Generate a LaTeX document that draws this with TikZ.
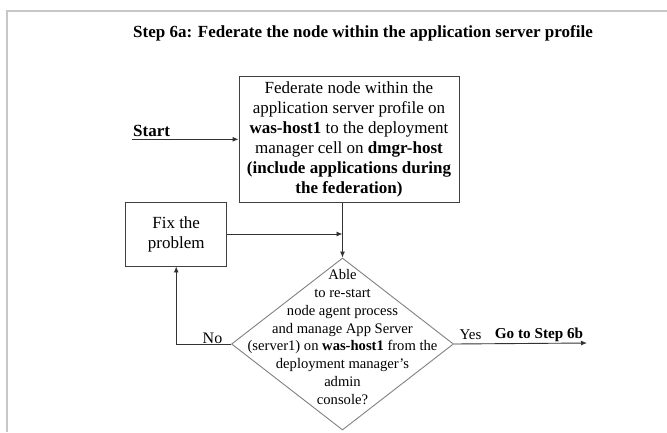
\documentclass[tikz,border=0pt]{standalone}
\usepackage{fontspec}
\setmainfont{Liberation Serif}
\usetikzlibrary{shapes.geometric,arrows.meta}
\begin{document}
\begin{tikzpicture}[x=1pt,y=-1pt,
  framestyle/.style={draw=black!22, line width=2pt},
  box/.style={draw=black!75, line width=0.9pt, rectangle, inner sep=0pt, align=center},
  dec/.style={draw=black!50, line width=0.9pt, diamond, inner sep=0pt, minimum width=222pt, minimum height=172pt},
  conn/.style={draw=black!80, line width=0.9pt},
  arr/.style={conn, -{Latex[length=6pt,width=5pt]}},
  lbl/.style={inner sep=0pt, text=black},
  f17/.style={font=\fontsize{17}{20}\selectfont},
  f15/.style={font=\fontsize{14.6}{17.9}\selectfont},
]
\path[use as bounding box] (0,0) rectangle (667,432);
\draw[framestyle] (6.5,432) -- (6.5,11) -- (667,11);

\node[lbl, f17, font=\fontsize{17}{20}\selectfont\bfseries] (title) at (363,33)
  {Step 6a: Federate the node within the application server profile};

\node[box, f17, minimum width=220pt, minimum height=126pt] (main) at (349,139.5)
  {Federate node within the\\application server profile on\\\textbf{was-host1} to the deployment\\manager cell on \textbf{dmgr-host}\\\textbf{(include applications during}\\\textbf{the federation)}};

\node[box, f17, minimum width=101pt, minimum height=64pt] (fix) at (176.2,234)
  {Fix the\\problem};

\node[dec] (dec) at (342.5,344) {};
\node[lbl, f15, align=center] (dectext) at (342.5,337)
  {Able\\to re-start\\node agent process\\and manage App Server\\(server1) on \textbf{was-host1} from the\\deployment manager's\\admin\\console?};

\coordinate (startpt) at (131.7,139.3);
\node[lbl, f17, font=\fontsize{17}{20}\selectfont\bfseries, anchor=west] (startlbl) at (133,131) {Start};
\draw[arr] (startpt) -- (startpt -| main.west);

\draw[arr] (main.south -| dec.north) -- (dec.north);
\draw[arr] (fix.east) -- (fix.east -| dec.north);
\draw[arr] (dec.west) -- (fix.south |- dec.west) -- (fix.south);
\node[lbl, font=\fontsize{16}{19}\selectfont] (nolbl) at (212.5,338) {No};

\coordinate (goal) at (587,343);
\draw[arr] (dec.east) -- (goal);
\node[lbl, font=\fontsize{15}{18}\selectfont] (yeslbl) at (470.5,335) {Yes};
\node[lbl, font=\fontsize{15.2}{18}\selectfont\bfseries] (golbl) at (539,335) {Go to Step 6b};
\end{tikzpicture}
\end{document}
